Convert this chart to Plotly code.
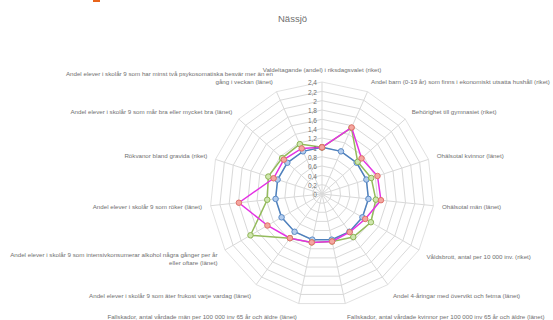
import plotly.graph_objects as go

# Indicator names around the radar (clockwise from the top)
categories = [
    "Valdeltagande (andel) i riksdagsvalet (riket)",
    "Andel barn (0-19 år) som finns i ekonomiskt utsatta hushåll (riket)",
    "Behörighet till gymnasiet (riket)",
    "Ohälsotal kvinnor (länet)",
    "Ohälsotal män (länet)",
    "Våldsbrott, antal per 10 000 inv. (riket)",
    "Andel 4-åringar med övervikt och fetma (länet)",
    "Fallskador, antal vårdade kvinnor per 100 000 inv 65 år och äldre (länet)",
    "Fallskador, antal vårdade män per 100 000 inv 65 år och äldre (länet)",
    "Andel elever i skolår 9 som äter frukost varje vardag (länet)",
    "Andel elever i skolår 9 som intensivkonsumerar alkohol några gånger per år<br>eller oftare (länet)",
    "Andel elever i skolår 9 som röker (länet)",
    "Rökvanor bland gravida (riket)",
    "Andel elever i skolår 9 som mår bra eller mycket bra (länet)",
    "Andel elever i skolår 9 som har minst två psykosomatiska besvär mer än en<br>gång i veckan (länet)",
]

# Relative index values (reference level = 1)
reference = [1.0] * 15
series_magenta = [1.0, 1.56, 1.14, 1.25, 1.27, 1.07, 1.01, 1.04, 1.06, 1.17,
                  1.35, 1.79, 1.09, 1.10, 1.07]
series_green = [1.0, 1.55, 1.03, 1.11, 1.16, 1.21, 1.14, 1.04, 1.06, 1.17,
                1.77, 1.18, 1.21, 1.15, 1.17]

radial_ticks = [0, 0.2, 0.4, 0.6, 0.8, 1.0, 1.2, 1.4, 1.6, 1.8, 2.0, 2.2, 2.4]

title_text = "Nässjö"

W, H = 553, 320
cx, cy, rad = 322, 194, 112  # polar centre and radius in pixels

FONT = "Liberation Sans, Arial, sans-serif"
TEXT = "#707070"
GRID = "#d9d9d9"


def closed(values):
    return list(values) + [values[0]]


fig = go.Figure()

styles = [
    (reference, "#4f81bd", "#b4cdee", "#5a8ac6"),
    (series_green, "#94bb5c", "#cfe6ae", "#8db454"),
    (series_magenta, "#e432e4", "#f4a7a0", "#e0706a"),
]
for vals, line_col, fill_col, edge_col in styles:
    fig.add_trace(go.Scatterpolar(
        r=closed(vals),
        theta=closed(categories),
        mode="lines+markers",
        line=dict(color=line_col, width=1.5),
        marker=dict(size=5.5, color=fill_col, line=dict(color=edge_col, width=1)),
        showlegend=False,
        hoverinfo="skip",
    ))

fig.update_layout(
    width=W, height=H,
    margin=dict(l=0, r=0, t=0, b=0),
    paper_bgcolor="white",
    plot_bgcolor="white",
    separators=", ",
    font=dict(family=FONT, color=TEXT),
    polar=dict(
        domain=dict(
            x=[(cx - rad) / W, (cx + rad) / W],
            y=[(H - cy - rad) / H, (H - cy + rad) / H],
        ),
        bgcolor="white",
        gridshape="linear",
        angularaxis=dict(
            type="category",
            categoryarray=categories,
            rotation=90,
            direction="clockwise",
            showline=True,
            linecolor=GRID,
            linewidth=0.8,
            gridcolor=GRID,
            gridwidth=0.8,
            # invisible ticks push the category labels away from the outer ring
            ticks="outside",
            ticklen=7,
            tickcolor="rgba(0,0,0,0)",
            tickfont=dict(size=6.2, color=TEXT, family=FONT),
        ),
        radialaxis=dict(
            range=[0, 2.4],
            tickvals=radial_ticks,
            angle=90,
            side="counterclockwise",
            showline=False,
            ticks="",
            gridcolor=GRID,
            gridwidth=0.8,
            tickfont=dict(size=6.5, color=TEXT, family=FONT),
        ),
    ),
    annotations=[dict(
        text=title_text, x=292 / W, y=1 - 18 / H, xref="paper", yref="paper",
        showarrow=False, xanchor="center", yanchor="middle",
        font=dict(size=9.5, color=TEXT, family=FONT),
    )],
    shapes=[dict(
        type="rect", xref="paper", yref="paper",
        x0=93 / W, x1=100 / W, y0=1 - 2 / H, y1=1,
        fillcolor="#e8641b", line=dict(width=0),
    )],
)

fig.write_html("out.html")
